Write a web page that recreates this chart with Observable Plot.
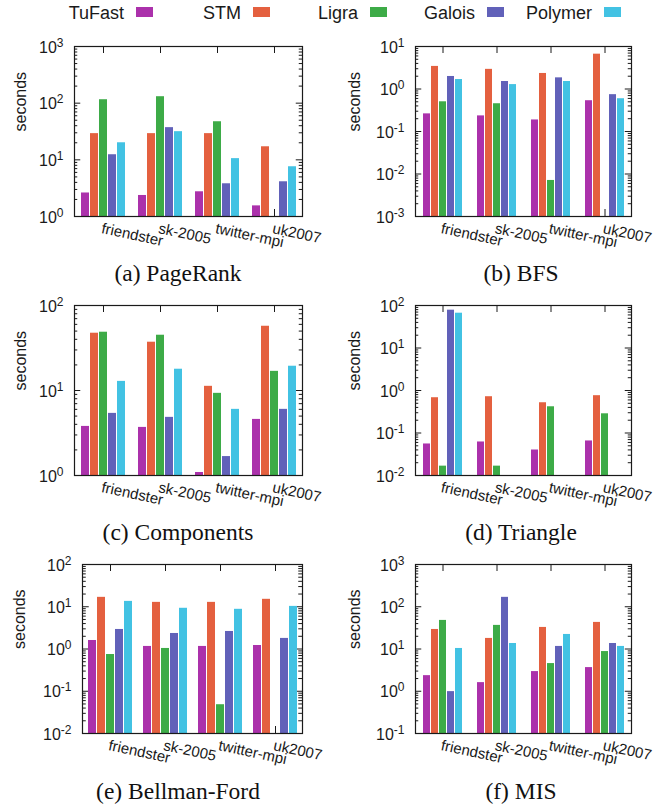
<!DOCTYPE html>
<html><head><meta charset="utf-8">
<script src="https://cdn.jsdelivr.net/npm/d3@7"></script>
<script src="https://cdn.jsdelivr.net/npm/@observablehq/plot@0.6"></script>
<style>
body{margin:0;background:#fff;}
#root{position:relative;width:668px;height:808px;overflow:hidden;font-family:"Liberation Sans",Arial,sans-serif;color:#1a1a1a;}
.panel{position:absolute;}
.panel svg{overflow:visible;}
.caption{position:absolute;font-family:"Liberation Serif","Times New Roman",serif;font-size:23.5px;line-height:1;white-space:nowrap;transform:translateX(-50%);color:#111;}
.lg-text{position:absolute;top:4px;left:0;font-size:18px;line-height:1;text-align:right;white-space:nowrap;}
.lg-swatch{position:absolute;top:7px;width:17px;height:10px;}
</style></head><body><div id="root"></div>
<script>
// ---- data ----
const groups = ["friendster", "sk-2005", "twitter-mpi", "uk2007"];
const series = ["TuFast", "STM", "Ligra", "Galois", "Polymer"];
const seriesColors = ["#ab31ab", "#e4603f", "#3dab47", "#6161b9", "#42c2e3"];
// seconds per group (rows) in series order (columns); null = no bar
const pageRank    = [[2.6, 29, 115, 12.3, 20], [2.35, 29, 130, 37, 31.4], [2.73, 29, 47, 3.78, 10.5], [1.54, 17, null, 4.1, 7.55]];
const bfs         = [[0.26, 3.4, 0.50, 1.97, 1.67], [0.233, 2.9, 0.45, 1.5, 1.27], [0.187, 2.32, 0.00705, 1.83, 1.5], [0.53, 6.6, null, 0.736, 0.59]];
const components  = [[3.78, 47.2, 48.5, 5.38, 12.8], [3.68, 37, 44.7, 4.83, 17.8], [1.085, 11.2, 9.26, 1.67, 6.0], [4.57, 57, 16.8, 6.0, 19.3]];
const triangle    = [[0.0552, 0.676, 0.0166, 77.6, 65.9], [0.0615, 0.714, 0.0166, null, null], [0.0398, 0.515, 0.414, null, null], [0.065, 0.755, 0.283, null, null]];
const bellmanFord = [[1.59, 16.7, 0.74, 2.9, 13.4], [1.15, 12.7, 1.03, 2.33, 9.2], [1.15, 12.7, 0.048, 2.6, 8.7], [1.21, 15.0, null, 1.78, 10.2]];
const mis         = [[2.34, 29, 47.5, 0.98, 10.3], [1.6, 17.8, 36.2, 167, 13.5], [2.92, 32.4, 4.52, 11.5, 22.1], [3.63, 42.6, 8.7, 13.5, 11.5]];
const captions = ["(a) PageRank", "(b) BFS", "(c) Components", "(d) Triangle", "(e) Bellman-Ford", "(f) MIS"];
const yExponents = [[0, 3], [-3, 1], [0, 2], [-2, 2], [-2, 2], [-1, 3]];
const yLabel = "seconds";

// ---- layout ----
const ink = "#1a1a1a";
const layouts = [
  {x: 0,   y: 26,  left: 72, right: 31, top: 20, bottom: 45},
  {x: 334, y: 26,  left: 79, right: 36, top: 20, bottom: 45},
  {x: 0,   y: 285, left: 72, right: 31, top: 20, bottom: 45},
  {x: 334, y: 285, left: 79, right: 36, top: 20, bottom: 45},
  {x: 0,   y: 544, left: 81, right: 32, top: 20, bottom: 46},
  {x: 334, y: 544, left: 79, right: 36, top: 20, bottom: 46}
];
const panelData = [pageRank, bfs, components, triangle, bellmanFord, mis];
const root = document.getElementById("root");

function makePanel(values, [lo, hi], m) {
  const width = 334, height = 235;
  const data = [];
  groups.forEach((g, gi) => series.forEach((s, si) => {
    const v = values[gi][si];
    if (v != null) data.push({group: g, series: s, value: v});
  }));
  const majors = d3.range(lo, hi + 1).map(e => 10 ** e);
  const minors = d3.range(lo, hi).flatMap(e => d3.range(2, 10).map(k => k * 10 ** e));
  const frameW = width - m.left - m.right;
  const facetW = frameW / groups.length;
  const frameH = height - m.top - m.bottom;
  const svg = Plot.plot({
    width, height,
    marginLeft: m.left, marginRight: m.right, marginTop: m.top, marginBottom: m.bottom,
    style: {fontFamily: '"Liberation Sans", Arial, sans-serif', fontSize: "15px", color: ink, background: "transparent", overflow: "visible"},
    fx: {domain: groups, padding: 0, axis: null},
    x: {domain: series, paddingInner: 0.15, paddingOuter: 0.6, axis: null},
    y: {type: "log", domain: [10 ** lo, 10 ** hi], axis: null},
    color: {domain: series, range: seriesColors},
    marks: [
      Plot.ruleX(groups, {fx: d => d, x: () => "Ligra", insetTop: frameH - 7, stroke: ink}),
      Plot.ruleX(groups, {fx: d => d, x: () => "Ligra", insetBottom: frameH - 7, stroke: ink}),
      Plot.ruleY(majors, {facetAnchor: "left", insetRight: facetW - 7, stroke: ink}),
      Plot.ruleY(majors, {facetAnchor: "right", insetLeft: facetW - 7, stroke: ink}),
      Plot.ruleY(minors, {facetAnchor: "left", insetRight: facetW - 4, stroke: ink}),
      Plot.ruleY(minors, {facetAnchor: "right", insetLeft: facetW - 4, stroke: ink}),
      Plot.barY(data, {fx: "group", x: "series", y1: 10 ** lo, y2: "value", fill: "series"}),
      Plot.frame({facet: "super", stroke: ink, strokeWidth: 1.2}),
      Plot.text(majors, {facetAnchor: "left", y: d => d, frameAnchor: "left", dx: -11, dy: 1, textAnchor: "end",
        text: d => `10^${Math.round(Math.log10(d))}`, fontSize: 16, fill: ink}),
      Plot.text(groups, {fx: d => d, text: d => d, frameAnchor: "bottom", textAnchor: "start",
        lineAnchor: "top", rotate: 12, dy: 6, fontSize: 15, fill: ink}),
      Plot.text([yLabel], {facet: "super", frameAnchor: "left", dx: 18.5 - m.left, rotate: -90, fontSize: 16, fill: ink})
    ]
  });
  svg.querySelectorAll("text").forEach(t => {
    if (t.children.length || !t.textContent.includes("^")) return;
    const [base, exp] = t.textContent.split("^");
    t.textContent = base;
    const ts = document.createElementNS("http://www.w3.org/2000/svg", "tspan");
    ts.setAttribute("dy", "-6");
    ts.setAttribute("font-size", "12");
    ts.textContent = exp;
    t.appendChild(ts);
  });
  return svg;
}

layouts.forEach((m, i) => {
  const div = document.createElement("div");
  div.className = "panel";
  div.style.left = m.x + "px";
  div.style.top = m.y + "px";
  div.appendChild(makePanel(panelData[i], yExponents[i], m));
  root.appendChild(div);
  const cap = document.createElement("div");
  cap.className = "caption";
  cap.textContent = captions[i];
  cap.style.left = (i % 2 === 0 ? 178 : 521) + "px";
  cap.style.top = (m.y + m.top + 236 - 19.7) + "px";
  root.appendChild(cap);
});

// legend
series.forEach((s, i) => {
  const sx = 136 + 117 * i;
  const t = document.createElement("div");
  t.className = "lg-text";
  t.style.width = (sx - 12) + "px";
  t.textContent = s;
  root.appendChild(t);
  const sw = document.createElement("div");
  sw.className = "lg-swatch";
  sw.style.left = sx + "px";
  sw.style.background = seriesColors[i];
  root.appendChild(sw);
});
</script>
</body></html>
